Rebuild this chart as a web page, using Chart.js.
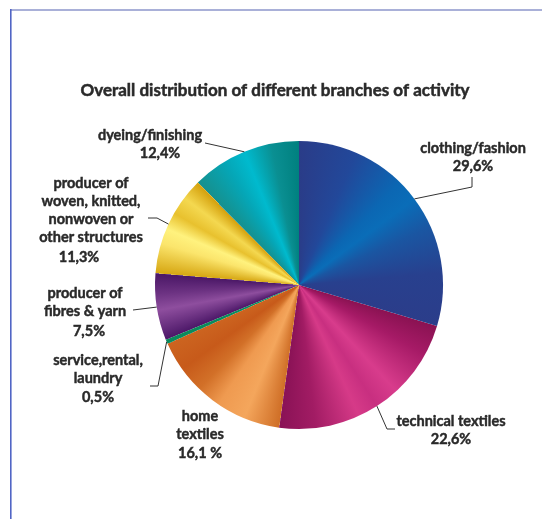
<!DOCTYPE html>
<html>
<head>
<meta charset="utf-8">
<title>Branches of activity</title>
<script src="https://cdn.jsdelivr.net/npm/chart.js@4.4.1/dist/chart.umd.min.js"></script>
<style>
  html, body { margin: 0; padding: 0; background: #fff; }
  canvas { display: block; }
</style>
</head>
<body>
<canvas id="pieChart" width="542" height="519"></canvas>
<script>
// slices run clockwise from 12 o'clock
var categories = ['clothing/fashion', 'technical textiles', 'home textiles', 'service,rental, laundry',
    'producer of fibres & yarn', 'producer of woven, knitted, nonwoven or other structures', 'dyeing/finishing'];
var shares = [29.6, 22.6, 16.1, 0.5, 7.5, 11.3, 12.4];
var shareLabels = ['29,6%', '22,6%', '16,1 %', '0,5%', '7,5%', '11,3%', '12,4%'];
var labelLines = [
    ['clothing/fashion'],
    ['technical textiles'],
    ['home', 'textiles'],
    ['service,rental,', 'laundry'],
    ['producer of', 'fibres & yarn'],
    ['producer of', 'woven, knitted,', 'nonwoven or', 'other structures'],
    ['dyeing/finishing']
];

// metallic shading of each slice: [position inside slice 0..1, colour]
var sliceShades = [
    [[0, '#2a3c88'], [0.22, '#22489a'], [0.42, '#0b67b3'], [0.5, '#0a6db8'], [0.62, '#1a56a2'], [0.8, '#28408e'], [1, '#2b3d8a']],
    [[0, '#8a1252'], [0.15, '#a61a66'], [0.38, '#d83c8c'], [0.5, '#c82f80'], [0.6, '#d63a88'], [0.82, '#a21c64'], [1, '#8a1256']],
    [[0, '#cf6e26'], [0.25, '#f4a65c'], [0.45, '#ef9a50'], [0.62, '#d27028'], [0.8, '#c75a1a'], [1, '#cc6420']],
    [[0, '#0b8a5c'], [1, '#0b8a5c']],
    [[0, '#4c1868'], [0.45, '#8e4e9e'], [0.7, '#6c3282'], [1, '#4a1766']],
    [[0, '#d6a612'], [0.3, '#fbe56c'], [0.45, '#fff27e'], [0.62, '#e8c12e'], [0.8, '#f4d850'], [1, '#d4a00c']],
    [[0, '#16908e'], [0.3, '#05a6b6'], [0.5, '#00bace'], [0.75, '#0a8f92'], [1, '#00807f']]
];

// label anchors as offsets from the pie centre: first text line, share line, leader elbows
var labelLayout = [
    { text: [174, -137], pct: [174, -119], leader: [[173, -98], [173, -108]] },
    { text: [152, 136], pct: [152, 154], leader: [[88, 144], [96, 144]] },
    { text: [-99, 131], pct: [-99, 168], leader: [] },
    { text: [-201, 75], pct: [-201, 112], leader: [[-141, 101], [-149, 101]] },
    { text: [-214, 8], pct: [-210, 46], leader: [[-166, 25]] },
    { text: [-208, -102], pct: [-220, -28], leader: [[-142, -67], [-151, -67]] },
    { text: [-149, -150], pct: [-139, -132], leader: [[-94, -142]] }
];

var chartTitle = 'Overall distribution of different branches of activity';
var textColor = '#2a2a2a';
var labelFont = 'bold 14.5px Lato';
var lineGap = 18;

var pieGradient = null;

// one conic gradient for the whole pie, stops laid out along the cumulative shares
function getPieGradient(chart) {
    var area = chart.chartArea;
    if (!area) return '#888';
    var cx = (area.left + area.right) / 2;
    var cy = (area.top + area.bottom) / 2;
    var key = cx + ',' + cy;
    if (pieGradient && pieGradient.key === key) return pieGradient.grad;
    var grad = chart.ctx.createConicGradient(-Math.PI / 2, cx, cy);
    var total = shares.reduce(function (a, b) { return a + b; }, 0);
    var start = 0;
    shares.forEach(function (v, i) {
        var span = v / total;
        sliceShades[i].forEach(function (s) {
            grad.addColorStop(Math.min(1, start + s[0] * span), s[1]);
        });
        start += span;
    });
    pieGradient = { key: key, grad: grad };
    return grad;
}

// bold text with a hairline stroke so it reads as heavy as the print face
function heavyText(ctx, text, x, y, maxWidth) {
    ctx.fillText(text, x, y, maxWidth);
    ctx.strokeText(text, x, y, maxWidth);
}

var sliceLabels = {
    id: 'sliceLabels',
    beforeDraw: function (chart) {
        var ctx = chart.ctx;
        ctx.save();
        // page frame
        ctx.strokeStyle = '#a9b0d8';
        ctx.lineWidth = 2;
        ctx.beginPath();
        ctx.moveTo(10, 10);
        ctx.lineTo(chart.width, 10);
        ctx.stroke();
        ctx.strokeStyle = '#5165c5';
        ctx.lineWidth = 1.6;
        ctx.beginPath();
        ctx.moveTo(10.8, 9);
        ctx.lineTo(10.8, chart.height);
        ctx.stroke();
        ctx.restore();
    },
    afterDatasetsDraw: function (chart) {
        var ctx = chart.ctx;
        var arcs = chart.getDatasetMeta(0).data;
        ctx.save();
        ctx.fillStyle = textColor;
        ctx.textAlign = 'center';
        ctx.textBaseline = 'middle';

        // leader lines from the middle of each slice's rim
        ctx.strokeStyle = '#333';
        ctx.lineWidth = 1;
        arcs.forEach(function (arc, i) {
            var lay = labelLayout[i];
            if (!lay.leader.length) return;
            var mid = (arc.startAngle + arc.endAngle) / 2;
            ctx.beginPath();
            ctx.moveTo(arc.x + Math.cos(mid) * arc.outerRadius, arc.y + Math.sin(mid) * arc.outerRadius);
            lay.leader.forEach(function (p) { ctx.lineTo(arc.x + p[0], arc.y + p[1]); });
            ctx.stroke();
        });

        ctx.strokeStyle = textColor;
        ctx.lineWidth = 0.5;
        ctx.font = 'bold 17px Lato';
        heavyText(ctx, chartTitle, 275, 91, 392);

        ctx.font = labelFont;
        ctx.lineWidth = 0.45;
        arcs.forEach(function (arc, i) {
            var lay = labelLayout[i];
            labelLines[i].forEach(function (line, k) {
                heavyText(ctx, line, arc.x + lay.text[0], arc.y + lay.text[1] + k * lineGap);
            });
            heavyText(ctx, shareLabels[i], arc.x + lay.pct[0], arc.y + lay.pct[1]);
        });
        ctx.restore();
    }
};

var chart = new Chart(document.getElementById('pieChart'), {
    type: 'pie',
    data: {
        labels: categories,
        datasets: [{
            data: shares,
            backgroundColor: function (context) { return getPieGradient(context.chart); },
            borderWidth: 0
        }]
    },
    options: {
        responsive: false,
        animation: false,
        devicePixelRatio: 1,
        layout: { padding: { left: 155, right: 99, top: 141, bottom: 90 } },
        plugins: {
            legend: { display: false },
            tooltip: { enabled: false }
        }
    },
    plugins: [sliceLabels]
});
</script>
</body>
</html>
